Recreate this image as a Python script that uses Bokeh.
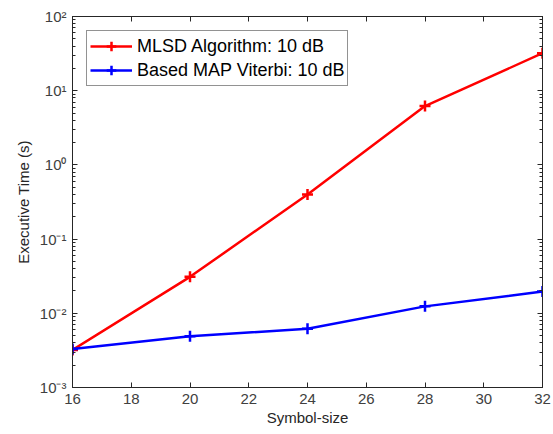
from bokeh.plotting import figure
from bokeh.models import FixedTicker, LinearAxis, LogAxis, Range1d, Legend
from bokeh.embed import file_html
from bokeh.resources import INLINE

symbol_size = [16, 20, 24, 28, 32]
mlsd_time = [0.0032, 0.031, 0.40, 6.2, 32.0]
viterbi_time = [0.0033, 0.0049, 0.0062, 0.0124, 0.0196]
series_labels = ["MLSD Algorithm: 10 dB", "Based MAP Viterbi: 10 dB"]
x_ticks = [16, 18, 20, 22, 24, 26, 28, 30, 32]
y_ticks = [1e-3, 1e-2, 1e-1, 1e0, 1e1, 1e2]
y_tick_labels = ["10\u207b\u00b3", "10\u207b\u00b2", "10\u207b\u00b9", "10\u2070", "10\u00b9", "10\u00b2"]

FONT = "Liberation Sans"
AX = "#262626"

p = figure(width=553, height=434, y_axis_type="log", output_backend="svg",
           toolbar_location=None, x_range=Range1d(16, 32), y_range=Range1d(1e-3, 1e2),
           min_border_left=72, min_border_right=11, min_border_top=16, min_border_bottom=47)
p.xgrid.visible = False
p.ygrid.visible = False
p.outline_line_color = AX
p.outline_line_width = 1
p.background_fill_color = "white"
p.border_fill_color = "white"

minor = [k * d for d in y_ticks[:-1] for k in range(2, 10)]
yt = FixedTicker(ticks=y_ticks, minor_ticks=minor)
xt = FixedTicker(ticks=x_ticks)

def style(ax, labels=True):
    ax.axis_line_color = AX
    ax.major_tick_in = 5
    ax.major_tick_out = 0
    ax.minor_tick_in = 3
    ax.minor_tick_out = 0
    ax.major_tick_line_color = AX
    ax.minor_tick_line_color = AX
    ax.major_label_text_font = FONT
    ax.major_label_text_font_size = "15px"
    ax.major_label_text_color = "#404040"
    ax.axis_label_text_font = FONT
    ax.axis_label_text_font_style = "normal"
    ax.axis_label_text_font_size = "15px"
    ax.axis_label_text_color = "#262626"
    if not labels:
        ax.major_label_text_alpha = 0
        ax.major_label_text_font_size = "1px"

p.xaxis.ticker = xt
p.yaxis.ticker = yt
p.yaxis.major_label_overrides = {t: l for t, l in zip(y_ticks, y_tick_labels)}
style(p.xaxis[0])
style(p.yaxis[0])
p.xaxis.minor_tick_line_color = None
p.xaxis.axis_label = "Symbol-size"
p.yaxis.axis_label = "Executive Time (s)"
p.xaxis.major_label_standoff = 6
p.yaxis.major_label_standoff = 6
p.xaxis.axis_label_standoff = 2
p.yaxis.axis_label_standoff = 5

top = LinearAxis(ticker=xt)
style(top, False)
top.minor_tick_line_color = None
p.add_layout(top, "above")
right = LogAxis(ticker=yt)
style(right, False)
p.add_layout(right, "right")

colors = ["#ff0000", "#0000ff"]
items = []
for ys, c, lab in zip([mlsd_time, viterbi_time], colors, series_labels):
    r1 = p.line(symbol_size, ys, line_color=c, line_width=2.5)
    r2 = p.scatter(symbol_size, ys, marker="cross", size=11, line_color=c, line_width=2.5)
    items.append((lab, [r1, r2]))

leg = Legend(items=items, location="top_left")
leg.label_text_font = FONT
leg.label_text_font_size = "18px"
leg.label_text_color = "black"
leg.border_line_color = AX
leg.border_line_width = 1
leg.glyph_width = 42
leg.glyph_height = 24
leg.label_height = 24
leg.spacing = 0
leg.padding = 3
leg.margin = 14
leg.label_standoff = 5
leg.background_fill_color = "white"
p.add_layout(leg)

open("out.html", "w").write(file_html(p, INLINE))
